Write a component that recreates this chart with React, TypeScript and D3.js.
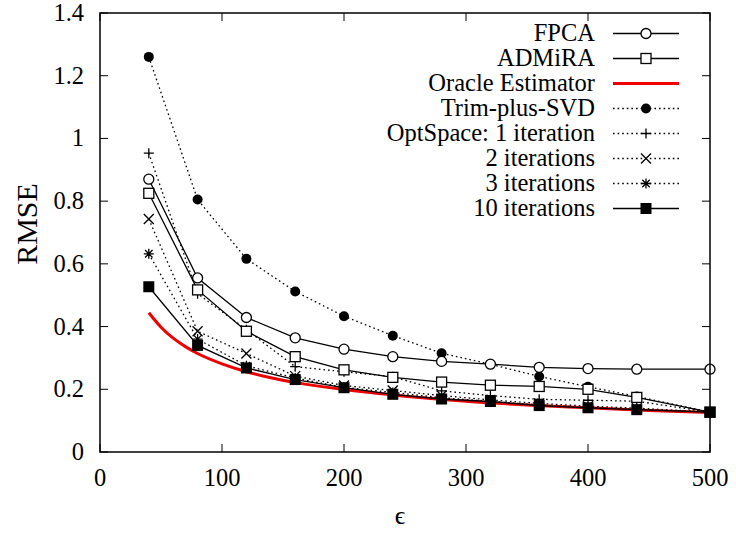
import React from "react";
import * as d3 from "d3";

const xs = [40, 80, 120, 160, 200, 240, 280, 320, 360, 400, 440, 500];
const fpca = [0.87, 0.555, 0.429, 0.364, 0.328, 0.304, 0.289, 0.28, 0.27, 0.266, 0.264, 0.264];
const admira = [0.825, 0.517, 0.385, 0.304, 0.262, 0.238, 0.223, 0.213, 0.209, 0.2, 0.174, 0.127];
const trimSvd = [1.26, 0.805, 0.616, 0.512, 0.433, 0.371, 0.315, 0.28, 0.241, 0.208, 0.177, 0.127];
const opt1 = [0.953, 0.505, 0.39, 0.272, 0.256, 0.24, 0.195, 0.18, 0.168, 0.165, 0.162, 0.127];
const opt2 = [0.743, 0.385, 0.314, 0.242, 0.212, 0.196, 0.18, 0.166, 0.155, 0.146, 0.14, 0.127];
const opt3 = [0.632, 0.36, 0.275, 0.236, 0.206, 0.19, 0.173, 0.162, 0.15, 0.142, 0.136, 0.127];
const opt10 = [0.527, 0.34, 0.268, 0.231, 0.205, 0.184, 0.169, 0.161, 0.148, 0.141, 0.135, 0.127];

const oracleX = [40, 50, 60, 70, 80, 100, 120, 140, 160, 200, 250, 300, 350, 400, 450, 500];
const oracleY = [0.444, 0.398, 0.363, 0.336, 0.314, 0.281, 0.256, 0.237, 0.222, 0.199, 0.178, 0.162, 0.15, 0.141, 0.132, 0.126];

const xTicks = [0, 100, 200, 300, 400, 500];
const yTicks = [0, 0.2, 0.4, 0.6, 0.8, 1, 1.2, 1.4];

const legendLabels = [
  "FPCA",
  "ADMiRA",
  "Oracle Estimator",
  "Trim-plus-SVD",
  "OptSpace: 1 iteration",
  "2 iterations",
  "3 iterations",
  "10 iterations",
];

type Marker = "circle" | "square" | "dot" | "plus" | "cross" | "star" | "fsquare" | "none";

const FONT = "Liberation Serif, DejaVu Serif, Times New Roman, serif";

export default function App() {
  const W = 736, H = 533;
  const L = 100, R = 710, T = 13, B = 452;
  const x = d3.scaleLinear().domain([0, 500]).range([L, R]);
  const y = d3.scaleLinear().domain([0, 1.4]).range([B, T]);
  const dash = "1.6,3";
  const ts = { fontFamily: FONT };

  const line = d3.line<[number, number]>().x((d) => x(d[0])).y((d) => y(d[1]));
  const curve = d3.line<[number, number]>().x((d) => x(d[0])).y((d) => y(d[1])).curve(d3.curveMonotoneX);

  const marker = (m: Marker, cx: number, cy: number, key: string) => {
    const s = 5;
    switch (m) {
      case "circle":
        return <circle key={key} cx={cx} cy={cy} r={s} fill="white" stroke="black" strokeWidth={1.3} />;
      case "square":
        return <rect key={key} x={cx - s} y={cy - s} width={2 * s} height={2 * s} fill="white" stroke="black" strokeWidth={1.3} />;
      case "dot":
        return <circle key={key} cx={cx} cy={cy} r={s} fill="black" />;
      case "fsquare":
        return <rect key={key} x={cx - s - 0.5} y={cy - s - 0.5} width={2 * s + 1} height={2 * s + 1} fill="black" />;
      case "plus":
        return (
          <path key={key} d={`M${cx - s},${cy}H${cx + s}M${cx},${cy - s}V${cy + s}`} stroke="black" strokeWidth={1.3} fill="none" />
        );
      case "cross":
        return (
          <path key={key} d={`M${cx - s},${cy - s}L${cx + s},${cy + s}M${cx - s},${cy + s}L${cx + s},${cy - s}`} stroke="black" strokeWidth={1.3} fill="none" />
        );
      case "star":
        return (
          <path
            key={key}
            d={`M${cx - s},${cy}H${cx + s}M${cx},${cy - s}V${cy + s}M${cx - s * 0.75},${cy - s * 0.75}L${cx + s * 0.75},${cy + s * 0.75}M${cx - s * 0.75},${cy + s * 0.75}L${cx + s * 0.75},${cy - s * 0.75}`}
            stroke="black"
            strokeWidth={1.3}
            fill="none"
          />
        );
      default:
        return null;
    }
  };

  const series: { vals: number[]; m: Marker; dashed: boolean }[] = [
    { vals: trimSvd, m: "dot", dashed: true },
    { vals: opt1, m: "plus", dashed: true },
    { vals: opt2, m: "cross", dashed: true },
    { vals: opt3, m: "star", dashed: true },
    { vals: fpca, m: "circle", dashed: false },
    { vals: admira, m: "square", dashed: false },
    { vals: opt10, m: "fsquare", dashed: false },
  ];

  const legendMarkers: { m: Marker; dashed: boolean; red?: boolean }[] = [
    { m: "circle", dashed: false },
    { m: "square", dashed: false },
    { m: "none", dashed: false, red: true },
    { m: "dot", dashed: true },
    { m: "plus", dashed: true },
    { m: "cross", dashed: true },
    { m: "star", dashed: true },
    { m: "fsquare", dashed: false },
  ];

  const oraclePts: [number, number][] = oracleX.map((v, i) => [v, oracleY[i]]);

  return (
    <svg width={W} height={H} style={{ position: "absolute", left: 0, top: 0, background: "white" }}>
      <rect x={0} y={0} width={W} height={H} fill="white" />
      {xTicks.map((t) => (
        <g key={"xt" + t}>
          <line x1={x(t)} x2={x(t)} y1={B} y2={B - 8} stroke="black" strokeWidth={1} />
          <line x1={x(t)} x2={x(t)} y1={T} y2={T + 8} stroke="black" strokeWidth={1} />
          <text x={x(t)} y={486} textAnchor="middle" fontSize={24.5} style={ts}>
            {t}
          </text>
        </g>
      ))}
      {yTicks.map((t) => (
        <g key={"yt" + t}>
          <line x1={L} x2={L + 8} y1={y(t)} y2={y(t)} stroke="black" strokeWidth={1} />
          <line x1={R} x2={R - 8} y1={y(t)} y2={y(t)} stroke="black" strokeWidth={1} />
          <text x={84} y={y(t) + 8} textAnchor="end" fontSize={24.5} style={ts}>
            {String(t)}
          </text>
        </g>
      ))}
      <text transform={`translate(37,224) rotate(-90)`} textAnchor="middle" fontSize={30} style={ts}>
        RMSE
      </text>
      <text x={400} y={524} textAnchor="middle" fontSize={26} style={ts}>
        ϵ
      </text>

      <path d={curve(oraclePts) || ""} fill="none" stroke="#ee0000" strokeWidth={3} />

      {series.map((s, si) => {
        const pts: [number, number][] = xs.map((v, i) => [v, s.vals[i]]);
        return (
          <g key={"s" + si}>
            <path d={line(pts) || ""} fill="none" stroke="black" strokeWidth={1.3} strokeDasharray={s.dashed ? dash : undefined} />
            {pts.map((p, i) => marker(s.m, x(p[0]), y(p[1]), `m${si}-${i}`))}
          </g>
        );
      })}

      {legendLabels.map((lab, i) => {
        const ly = 33.5 + i * 25;
        const lm = legendMarkers[i];
        return (
          <g key={"lg" + i}>
            <text x={595} y={ly + 7.5} textAnchor="end" fontSize={24.5} style={ts}>
              {lab}
            </text>
            <line
              x1={613}
              x2={679}
              y1={ly}
              y2={ly}
              stroke={lm.red ? "#ee0000" : "black"}
              strokeWidth={lm.red ? 3 : 1.3}
              strokeDasharray={lm.dashed ? dash : undefined}
            />
            {marker(lm.m, 646, ly, "lm" + i)}
          </g>
        );
      })}

      <rect x={L} y={T} width={R - L} height={B - T} fill="none" stroke="black" strokeWidth={1.5} />
    </svg>
  );
}
